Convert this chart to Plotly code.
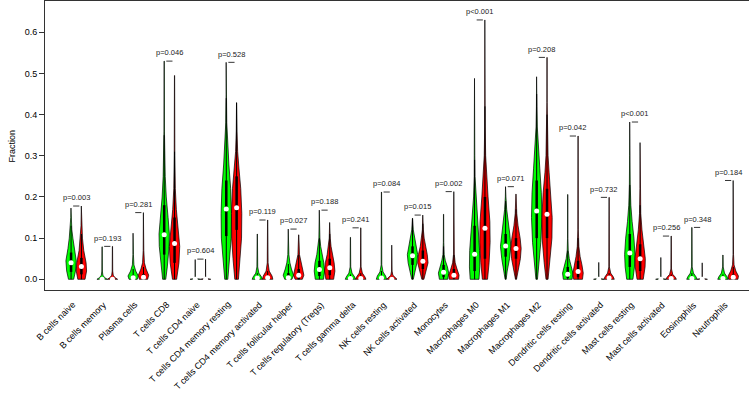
import plotly.graph_objects as go

categories = ["B cells naive", "B cells memory", "Plasma cells", "T cells CD8", "T cells CD4 naive",
              "T cells CD4 memory resting", "T cells CD4 memory activated", "T cells follicular helper",
              "T cells regulatory (Tregs)", "T cells gamma delta", "NK cells resting", "NK cells activated",
              "Monocytes", "Macrophages M0", "Macrophages M1", "Macrophages M2", "Dendritic cells resting",
              "Dendritic cells activated", "Mast cells resting", "Mast cells activated", "Eosinophils", "Neutrophils"]

p_labels = ["p=0.003", "p=0.193", "p=0.281", "p=0.046", "p=0.604", "p=0.528", "p=0.119", "p=0.027",
            "p=0.188", "p=0.241", "p=0.084", "p=0.015", "p=0.002", "p<0.001", "p=0.071", "p=0.208",
            "p=0.042", "p=0.732", "p<0.001", "p=0.256", "p=0.348", "p=0.184"]

# medians, quartiles and upper whisker ends (fraction)
green_median = [0.040, 0.0, 0.004, 0.108, 0.0, 0.171, 0.003, 0.004, 0.024, 0.002, 0.003, 0.057,
                0.017, 0.061, 0.081, 0.166, 0.012, 0.0, 0.064, 0.0, 0.002, 0.002]
red_median = [0.031, 0.0, 0.005, 0.087, 0.0, 0.174, 0.004, 0.010, 0.028, 0.002, 0.0, 0.044,
              0.010, 0.124, 0.075, 0.158, 0.019, 0.003, 0.050, 0.002, 0.0, 0.005]
green_q1 = [0.018, 0, 0, 0.06, 0, 0.105, 0, 0, 0.008, 0, 0, 0.035, 0.005, 0.02, 0.055, 0.10, 0.003, 0, 0.03, 0, 0, 0]
green_q3 = [0.065, 0.002, 0.01, 0.18, 0, 0.24, 0.006, 0.015, 0.045, 0.005, 0.008, 0.08, 0.035, 0.13, 0.11, 0.24,
            0.03, 0, 0.11, 0, 0.006, 0.005]
red_q1 = [0.012, 0, 0, 0.04, 0, 0.12, 0, 0, 0.01, 0, 0, 0.025, 0.002, 0.05, 0.05, 0.10, 0.005, 0, 0.02, 0, 0, 0]
red_q3 = [0.052, 0.002, 0.013, 0.15, 0, 0.25, 0.008, 0.025, 0.05, 0.006, 0.003, 0.07, 0.025, 0.20, 0.10, 0.22,
          0.045, 0.006, 0.085, 0.005, 0, 0.012]
green_whisker = [0.13, 0.005, 0.025, 0.35, 0, 0.44, 0.015, 0.037, 0.10, 0.012, 0.02, 0.148, 0.08, 0.29, 0.19, 0.45,
                 0.07, 0, 0.23, 0, 0.015, 0.012]
red_whisker = [0.11, 0.005, 0.03, 0.31, 0, 0.429, 0.02, 0.06, 0.11, 0.015, 0.007, 0.135, 0.06, 0.42, 0.17, 0.40,
               0.10, 0.015, 0.18, 0.012, 0, 0.03]

# violin outlines: [fraction, relative half-width] from bottom to top (last point = maximum)
green_shape = [
    [[0, .5], [.02, .85], [.045, 1], [.075, .6], [.1, .35], [.12, .15], [.15, .06], [.173, .02]],
    [[0, 1], [.004, .5], [.01, .15], [.02, .05], [.079, .02]],
    [[0, .8], [.008, 1], [.02, .5], [.035, .15], [.06, .05], [.112, .02]],
    [[0, .3], [.03, .6], [.08, .95], [.11, 1], [.15, .75], [.2, .4], [.25, .2], [.3, .1], [.36, .05], [.53, .02]],
    [[0, 1], [.002, .15], [.006, .02], [.048, .005]],
    [[0, .3], [.04, .6], [.1, .95], [.16, 1], [.22, .85], [.28, .5], [.33, .25], [.38, .1], [.45, .04], [.527, .02]],
    [[0, 1], [.006, .8], [.015, .3], [.03, .08], [.11, .02]],
    [[0, .7], [.01, 1], [.025, .6], [.04, .3], [.06, .1], [.122, .02]],
    [[0, .8], [.02, 1], [.04, .85], [.06, .5], [.08, .25], [.1, .1], [.168, .02]],
    [[0, 1], [.006, .8], [.015, .3], [.03, .06], [.102, .02]],
    [[0, 1], [.008, .8], [.018, .3], [.035, .06], [.212, .02]],
    [[0, .15], [.02, .45], [.04, .85], [.06, 1], [.08, .75], [.1, .4], [.12, .15], [.148, .02]],
    [[0, .8], [.015, 1], [.03, .75], [.045, .35], [.06, .12], [.09, .04], [.158, .02]],
    [[0, .85], [.03, 1], [.07, .95], [.11, .75], [.15, .45], [.2, .2], [.25, .08], [.3, .04], [.488, .02]],
    [[0, .1], [.02, .3], [.05, .75], [.08, 1], [.11, .8], [.14, .45], [.17, .2], [.2, .06], [.225, .02]],
    [[0, .15], [.04, .45], [.09, .8], [.15, 1], [.21, .9], [.27, .6], [.32, .3], [.37, .12], [.42, .05], [.492, .02]],
    [[0, .85], [.015, 1], [.03, .7], [.05, .3], [.07, .1], [.1, .04], [.206, .02]],
    [[0, 1], [.002, .15], [.006, .02], [.041, .005]],
    [[0, .6], [.03, .9], [.06, 1], [.1, .8], [.14, .45], [.18, .2], [.23, .08], [.3, .04], [.382, .02]],
    [[0, 1], [.002, .15], [.006, .02], [.053, .005]],
    [[0, 1], [.006, .8], [.015, .3], [.03, .06], [.126, .02]],
    [[0, 1], [.006, .8], [.015, .3], [.03, .06], [.059, .02]],
]
red_shape = [
    [[0, .7], [.02, 1], [.04, .9], [.07, .45], [.1, .2], [.13, .08], [.178, .02]],
    [[0, 1], [.004, .5], [.01, .15], [.02, .05], [.080, .02]],
    [[0, .8], [.01, 1], [.025, .5], [.04, .18], [.07, .06], [.162, .02]],
    [[0, .4], [.04, .85], [.08, 1], [.12, .7], [.17, .35], [.22, .15], [.3, .06], [.495, .02]],
    [[0, 1], [.002, .15], [.006, .02], [.049, .005]],
    [[0, .35], [.05, .7], [.1, .95], [.16, 1], [.22, .8], [.27, .45], [.31, .2], [.36, .07], [.429, .02]],
    [[0, 1], [.008, .85], [.02, .3], [.04, .08], [.144, .02]],
    [[0, .7], [.01, 1], [.025, .75], [.045, .4], [.06, .15], [.108, .02]],
    [[0, .75], [.02, 1], [.04, .85], [.06, .5], [.08, .25], [.1, .1], [.138, .02]],
    [[0, 1], [.006, .8], [.015, .3], [.03, .06], [.125, .02]],
    [[0, 1], [.004, .6], [.01, .2], [.02, .05], [.083, .02]],
    [[0, .2], [.02, .6], [.04, 1], [.06, .85], [.08, .5], [.1, .25], [.12, .1], [.156, .02]],
    [[0, .9], [.01, 1], [.025, .6], [.04, .25], [.06, .08], [.213, .02]],
    [[0, .5], [.04, .8], [.09, 1], [.14, .95], [.2, .6], [.25, .3], [.3, .14], [.37, .05], [.45, .03], [.63, .02]],
    [[0, .1], [.02, .35], [.05, .85], [.075, 1], [.1, .8], [.13, .4], [.16, .15], [.207, .02]],
    [[0, .2], [.04, .55], [.1, .95], [.15, 1], [.21, .75], [.26, .4], [.3, .2], [.36, .07], [.43, .03], [.539, .02]],
    [[0, .85], [.015, 1], [.035, .75], [.055, .4], [.08, .15], [.12, .05], [.348, .02]],
    [[0, 1], [.006, .8], [.015, .3], [.03, .06], [.199, .02]],
    [[0, .6], [.03, .95], [.05, 1], [.08, .7], [.12, .35], [.16, .12], [.22, .05], [.332, .02]],
    [[0, 1], [.005, .8], [.012, .3], [.025, .06], [.105, .02]],
    [[0, 1], [.002, .15], [.006, .02], [.040, .005]],
    [[0, .9], [.008, 1], [.02, .5], [.035, .15], [.06, .05], [.24, .02]],
]

y_ticks = [0.0, 0.1, 0.2, 0.3, 0.4, 0.5, 0.6]

FONT = "Liberation Sans, Arial, Helvetica, sans-serif"
HALF = 0.5  # max half width of a violin (x units)
Y_RANGE = [-0.026, 0.676]
LABEL_Y = -0.05  # category label anchor, in data units (below the axis)

fig = go.Figure()


def add_violin(pos, shape, color, q1, q3, wtop, med):
    ys = [p[0] for p in shape]
    ws = [p[1] * HALF for p in shape]
    xs = [pos + w for w in ws] + [pos - w for w in reversed(ws)]
    yy = ys + list(reversed(ys))
    xs.append(xs[0])
    yy.append(yy[0])
    fig.add_trace(go.Scatter(x=xs, y=yy, mode="lines", fill="toself", fillcolor=color,
                             line=dict(color="black", width=0.7), hoverinfo="skip", showlegend=False))
    if wtop > 0:
        fig.add_trace(go.Scatter(x=[pos, pos], y=[0, wtop], mode="lines",
                                 line=dict(color="black", width=1), hoverinfo="skip", showlegend=False))
    if q3 > q1:
        fig.add_trace(go.Scatter(x=[pos, pos], y=[q1, q3], mode="lines",
                                 line=dict(color="black", width=2.5), hoverinfo="skip", showlegend=False))
    fig.add_trace(go.Scatter(x=[pos], y=[med], mode="markers",
                             marker=dict(color="white", size=5, line=dict(width=0)),
                             hoverinfo="skip", showlegend=False))


label_y_paper = (LABEL_Y - Y_RANGE[0]) / (Y_RANGE[1] - Y_RANGE[0])

bx, by = [], []
for i, cat in enumerate(categories):
    gpos = 3 * i
    rpos = 3 * i + 1
    add_violin(gpos, green_shape[i], "#00FF00", green_q1[i], green_q3[i], green_whisker[i], green_median[i])
    add_violin(rpos, red_shape[i], "#FF0000", red_q1[i], red_q3[i], red_whisker[i], red_median[i])
    mx = max(green_shape[i][-1][0], red_shape[i][-1][0])
    bx += [gpos + 0.2, gpos + 0.8, None]
    by += [mx, mx, None]
    fig.add_annotation(x=gpos + 0.5, y=mx + 0.02, text=p_labels[i], showarrow=False,
                       font=dict(family=FONT, size=7.5, color="#222222"), xanchor="center", yanchor="middle")
    fig.add_annotation(x=rpos, y=label_y_paper, yref="paper", text=cat, showarrow=False, textangle=-45,
                       font=dict(family=FONT, size=9, color="black"), xanchor="right", yanchor="top",
                       xshift=-1, yshift=3)

fig.add_trace(go.Scatter(x=bx, y=by, mode="lines", line=dict(color="black", width=0.8),
                         hoverinfo="skip", showlegend=False))

fig.add_annotation(x=-0.047, y=0.5, xref="paper", yref="paper", text="Fraction", textangle=-90,
                   showarrow=False, font=dict(family=FONT, size=9, color="black"),
                   xanchor="center", yanchor="middle")

fig.update_layout(
    width=749, height=396,
    margin=dict(l=45, r=0, t=1, b=106),
    paper_bgcolor="white", plot_bgcolor="white",
    font=dict(family=FONT, size=9, color="black"),
    xaxis=dict(range=[-2.52, 65.52], showgrid=False, zeroline=False, showticklabels=False, ticks="",
               showline=True, linecolor="#333333", linewidth=1, mirror=True),
    yaxis=dict(range=Y_RANGE, showgrid=False, zeroline=False, tickvals=y_ticks,
               ticktext=["%.1f" % v for v in y_ticks], ticks="outside", ticklen=5, tickwidth=1,
               tickcolor="#333333", showline=True, linecolor="#333333", linewidth=1,
               tickfont=dict(family=FONT, size=9, color="black")),
)

fig.write_html("out.html", post_script="document.body.style.margin='0';",
               config={"displayModeBar": False})
